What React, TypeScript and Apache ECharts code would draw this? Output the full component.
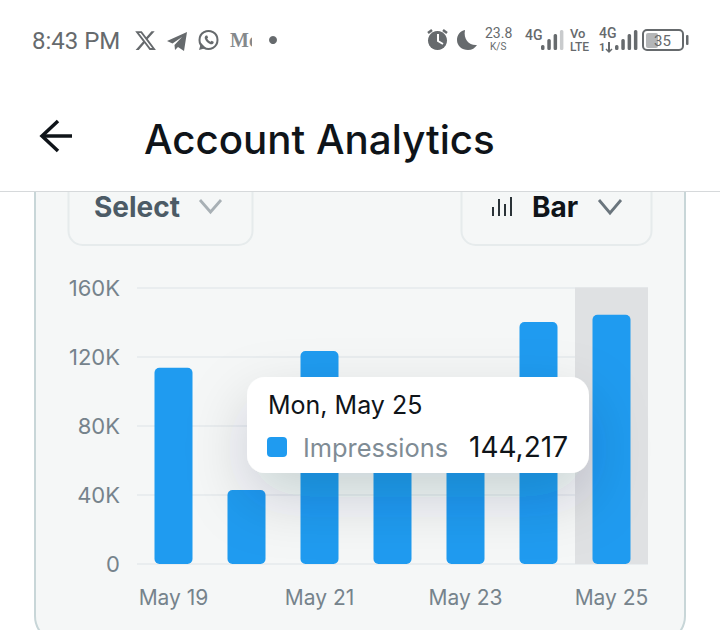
import React, { useEffect, useRef } from "react";
import * as echarts from "echarts";

const categories = ["May 19", "May 20", "May 21", "May 22", "May 23", "May 24", "May 25"];
const impressions = [113500, 42800, 123300, 98000, 102000, 140000, 144217];
const axisMax = 160000;
const axisStep = 40000;
const hoverIndex = 6;
const highlight = categories.map((_, i) => (i === hoverIndex ? axisMax : null));
const tooltipTitle = "Mon, May 25";
const tooltipSeries = "Impressions";
const tooltipValue = "144,217";

const FONT = "Inter, 'Noto Sans', sans-serif";
const BLUE = "#1f9bf0";
const STATUS = "#666a6d";
const CARD = "#f5f7f7";

echarts.graphic.registerShape("xLogo", echarts.graphic.extendPath(
  "M18.244 2.25h3.308l-7.227 8.26 8.502 11.24H16.17l-5.214-6.817L4.99 21.75H1.68l7.73-8.835L1.254 2.25H8.08l4.713 6.231zm-1.161 17.52h1.833L7.084 4.126H5.117z", {}));
echarts.graphic.registerShape("plane", echarts.graphic.extendPath(
  "M0 10 L20 1 L17 20 L11 16 L8 19 L7.5 14 L15 6 L5.5 12.5 Z", {}));
echarts.graphic.registerShape("waTail", echarts.graphic.extendPath(
  "M3 13 L1 20 L8 18 Z", {}));
echarts.graphic.registerShape("waPhone", echarts.graphic.extendPath(
  "M7 5.5 C6 6 5.5 7 5.8 8.5 C6.5 11 9 13.5 11.5 14.2 C13 14.5 14 14 14.6 13 L14.6 11.8 L12.6 10.8 L11.6 11.8 C10.3 11.2 8.8 9.7 8.2 8.4 L9.1 7.4 L8.2 5.5 Z", {}));
echarts.graphic.registerShape("moon", echarts.graphic.extendPath(
  "M8 0 C3 1 0 5 0 10 C0 16 5 20 11 20 C15 20 18 18 20 15 C13 16 6 10 8 0 Z", {}));

const txt = (x: number, y: number, text: string, fontSize: number, fill: string, extra: any = {}, z = 50) => ({
  type: "text", x, y, z,
  style: { text, fontSize, fill, fontFamily: FONT, verticalAlign: "middle", ...extra },
});
const rect = (x: number, y: number, width: number, height: number, fill: string, r = 0, z = 50) => ({
  type: "rect", z, shape: { x, y, width, height, r }, style: { fill },
});
const signal = (x: number, hs: number[], fills: string[]) =>
  hs.map((h, i) => rect(x + i * 6.3, 50 - h, 3.5, h, fills[i], 1.5));
const chevron = (x: number, y: number, w: number, h: number, stroke: string, z = -8) => ({
  type: "polyline", z,
  shape: { points: [[x, y], [x + w / 2, y + h], [x + w, y]] },
  style: { fill: "none", stroke, lineWidth: 2.8 },
});

const graphics: any[] = [
  // card behind the chart
  { type: "rect", z: -10, shape: { x: 35, y: 150, width: 650, height: 492, r: 26 }, style: { fill: CARD, stroke: "#c8d6d8", lineWidth: 2 } },
  { type: "rect", z: -9, shape: { x: 68.5, y: 150, width: 184, height: 95, r: 14 }, style: { fill: CARD, stroke: "#e6ebec", lineWidth: 2 } },
  { type: "rect", z: -9, shape: { x: 461.5, y: 150, width: 190, height: 95, r: 14 }, style: { fill: CARD, stroke: "#e6ebec", lineWidth: 2 } },
  txt(94, 207, "Select", 28, "#4c5b66", { fontWeight: 700 }, -8),
  chevron(200, 200, 21, 12, "#a8b0b5"),
  ...[[492, 9], [498, 17], [504, 12], [510, 19]].map(([x, h]) => rect(x, 216 - h, 2, h, "#2b3338", 0, -8)),
  txt(532, 207, "Bar", 28, "#0f1419", { fontWeight: 700 }, -8),
  chevron(599, 200, 22, 13, "#6a757d"),
  // header
  rect(0, 0, 720, 191, "#ffffff", 0, -5),
  rect(0, 191, 720, 1, "#d6d9db", 0, -5),
  // status bar
  txt(32, 41, "8:43 PM", 24, STATUS, { fontFamily: "Roboto, sans-serif" }),
  { type: "xLogo", z: 50, x: 134, y: 29, scaleX: 0.96, scaleY: 0.96, style: { fill: STATUS } },
  { type: "plane", z: 50, x: 167, y: 31, scaleX: 1, scaleY: 1, style: { fill: STATUS } },
  { type: "circle", z: 50, shape: { cx: 208.5, cy: 40, r: 9 }, style: { fill: "none", stroke: STATUS, lineWidth: 2 } },
  { type: "waTail", z: 50, x: 198, y: 30, style: { fill: STATUS } },
  { type: "waPhone", z: 50, x: 199, y: 30, style: { fill: STATUS } },
  txt(230, 40, "Mc", 20, "#85898c", { fontFamily: "'Liberation Serif', serif", fontWeight: 700 }),
  rect(252, 28, 12, 24, "#ffffff", 0, 51),
  { type: "circle", z: 52, shape: { cx: 273, cy: 40, r: 4 }, style: { fill: STATUS } },
  { type: "circle", z: 50, shape: { cx: 437.5, cy: 40.5, r: 9.5 }, style: { fill: STATUS } },
  { type: "polyline", z: 51, shape: { points: [[438, 34], [438, 41], [443, 44]] }, style: { fill: "none", stroke: "#ffffff", lineWidth: 2 } },
  { type: "line", z: 50, shape: { x1: 428, y1: 33, x2: 432, y2: 30 }, style: { stroke: STATUS, lineWidth: 2.5 } },
  { type: "line", z: 50, shape: { x1: 447, y1: 33, x2: 443, y2: 30 }, style: { stroke: STATUS, lineWidth: 2.5 } },
  { type: "moon", z: 50, x: 457, y: 30, scaleX: 1, scaleY: 1, style: { fill: STATUS } },
  txt(485, 33, "23.8", 14, STATUS, { fontFamily: "Roboto, sans-serif" }),
  txt(490, 46, "K/S", 10, STATUS, { fontFamily: "Roboto, sans-serif" }),
  txt(525, 35, "4G", 14, STATUS, { fontFamily: "Roboto, sans-serif", fontWeight: 500 }),
  ...signal(541, [5, 11, 16, 20], [STATUS, STATUS, STATUS, "#c9cbcd"]),
  txt(570, 33, "Vo", 13, STATUS, { fontFamily: "Roboto, sans-serif", fontWeight: 500 }),
  txt(570, 47, "LTE", 12, STATUS, { fontFamily: "Roboto, sans-serif", fontWeight: 500 }),
  txt(599, 33, "4G", 14, STATUS, { fontFamily: "Roboto, sans-serif", fontWeight: 500 }),
  txt(599, 47.5, "1", 11, STATUS, { fontFamily: "Roboto, sans-serif", fontWeight: 700 }),
  { type: "line", z: 50, shape: { x1: 609, y1: 42, x2: 609, y2: 52 }, style: { stroke: STATUS, lineWidth: 2 } },
  { type: "polyline", z: 50, shape: { points: [[606, 49], [609, 52], [612, 49]] }, style: { fill: "none", stroke: STATUS, lineWidth: 1.5 } },
  ...signal(615, [5, 11, 16, 20], [STATUS, STATUS, STATUS, STATUS]),
  { type: "rect", z: 50, shape: { x: 643, y: 30, width: 40, height: 20, r: 4 }, style: { fill: "none", stroke: STATUS, lineWidth: 2 } },
  rect(646, 33, 12, 15, "#b4b6b8", 2),
  txt(654, 40.5, "35", 15, STATUS, { fontFamily: "Roboto, sans-serif" }, 52),
  rect(686, 35, 2.5, 10, STATUS, 1),
  // title row
  { type: "polyline", z: 50, shape: { points: [[58, 121], [42, 136], [58, 151]] }, style: { fill: "none", stroke: "#0f1419", lineWidth: 3.5 } },
  { type: "line", z: 50, shape: { x1: 43, y1: 136, x2: 72, y2: 136 }, style: { stroke: "#0f1419", lineWidth: 3.5 } },
  txt(144, 139, "Account Analytics", 40.3, "#0f1419", { fontWeight: 500 }),
  // tooltip
  { type: "rect", z: 100, shape: { x: 247, y: 377, width: 342, height: 96, r: 18 },
    style: { fill: "#ffffff", shadowBlur: 60, shadowOffsetY: 24, shadowColor: "rgba(20,40,60,0.18)" } },
  txt(268, 405, tooltipTitle, 25, "#0f1419", {}, 101),
  rect(267, 437, 20, 20, BLUE, 4, 101),
  txt(303, 447, tooltipSeries, 25.4, "#7f8c95", {}, 101),
  txt(568, 447, tooltipValue, 28, "#0f1419", { align: "right", fontWeight: 400 }, 101),
];

export default function App() {
  const ref = useRef<HTMLDivElement>(null);
  useEffect(() => {
    const chart = echarts.init(ref.current!, undefined, { renderer: "svg" });
    chart.setOption({
      animation: false,
      backgroundColor: "#ffffff",
      grid: { left: 137, right: 72, top: 287.5, height: 276.5, containLabel: false },
      xAxis: [
        {
          type: "category",
          data: categories,
          axisLine: { show: false },
          axisTick: { show: false },
          axisLabel: { interval: 1, margin: 23, fontSize: 21, color: "#76838c", fontFamily: FONT },
        },
        { type: "category", data: categories, show: false },
      ],
      yAxis: {
        type: "value",
        min: 0,
        max: axisMax,
        interval: axisStep,
        axisLine: { show: false },
        axisTick: { show: false },
        splitLine: { lineStyle: { color: "#e9edef", width: 2 } },
        axisLabel: {
          margin: 17,
          fontSize: 22,
          color: "#76838c",
          fontFamily: FONT,
          formatter: (v: number) => (v === 0 ? "0" : `${v / 1000}K`),
        },
      },
      series: [
        { name: "Highlight", type: "bar", xAxisIndex: 1, data: highlight, barWidth: "100%", silent: true, z: 1,
          itemStyle: { color: "#dfe1e3" } },
        { name: "Impressions", type: "bar", xAxisIndex: 0, data: impressions, barWidth: 38, z: 2,
          itemStyle: { color: BLUE, borderRadius: 5 } },
      ],
      graphic: { elements: graphics },
    });
    return () => chart.dispose();
  }, []);
  return <div ref={ref} style={{ position: "fixed", left: 0, top: 0, width: 720, height: 630 }} />;
}
